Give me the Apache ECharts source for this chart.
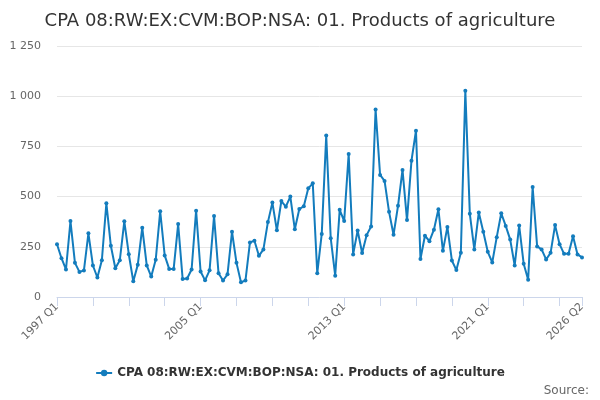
<!DOCTYPE html>
<html>
<head>
<meta charset="utf-8">
<script src="https://cdn.jsdelivr.net/npm/echarts@6/dist/echarts.min.js"></script>
<style>html,body{margin:0;padding:0;background:#fff}#c{width:600px;height:400px}</style>
</head>
<body>
<div id="c"></div>
<script>
const seriesName = "CPA 08:RW:EX:CVM:BOP:NSA: 01. Products of agriculture";
const startYear = 1997;
const endYear = 2026;
const endQuarter = 2;
const values = [
  263,193,137,378,170,125,132,317,157,97,183,467,255,143,183,377,
  213,78,160,345,157,102,185,427,207,140,140,363,90,92,137,430,
  127,83,133,403,118,82,113,325,170,73,82,272,280,205,237,373,
  470,332,478,450,500,337,438,452,541,566,118,314,804,293,106,434,
  378,712,212,331,219,308,351,934,608,578,424,310,454,633,383,679,
  828,189,305,278,335,437,230,349,182,134,220,1027,414,237,421,325,
  225,172,298,417,354,286,157,356,166,86,548,252,237,187,220,358,
  263,215,215,303,212,197
];
const categories = [];
for (let y = startYear; y <= endYear; y++) {
  for (let q = 1; q <= 4; q++) {
    if (y === endYear && q > endQuarter) break;
    categories.push(y + " Q" + q);
  }
}
const lastIdx = categories.length - 1;
const chart = echarts.init(document.getElementById('c'), null, {renderer: 'canvas'});
chart.setOption({
  animation: false,
  textStyle: {fontFamily: 'DejaVu Sans'},
  title: {
    text: seriesName,
    left: 'center', top: 7,
    textStyle: {fontFamily: 'DejaVu Sans', fontSize: 18, fontWeight: 'normal', color: '#333'}
  },
  legend: {
    data: [seriesName],
    bottom: 16, left: 'center',
    itemWidth: 16, itemHeight: 8,
    textStyle: {fontFamily: 'DejaVu Sans', fontSize: 12, fontWeight: 'bold', color: '#333'}
  },
  graphic: [{
    type: 'text', right: 11, bottom: 3,
    style: {text: 'Source:', font: '12px DejaVu Sans', fill: '#666'}
  }],
  grid: {left: 57, right: 18, top: 46, bottom: 103, containLabel: false},
  xAxis: {
    type: 'category',
    data: categories,
    boundaryGap: false,
    axisLine: {lineStyle: {color: '#ccd6eb'}},
    axisTick: {
      length: 9,
      lineStyle: {color: '#ccd6eb'},
      interval: function (i) { return i % 8 === 0 || i === lastIdx; }
    },
    axisLabel: {
      rotate: 45,
      fontSize: 11,
      color: '#666',
      margin: 8,
      interval: function (i) { return i % 32 === 0 || i === lastIdx; }
    },
    splitLine: {show: false}
  },
  yAxis: {
    type: 'value',
    min: 0, max: 1250, interval: 250,
    axisLine: {show: false},
    axisTick: {show: false},
    axisLabel: {
      fontSize: 11, color: '#666', margin: 16,
      formatter: function (v) { return String(v).replace(/\B(?=(\d{3})+(?!\d))/g, ' '); }
    },
    splitLine: {lineStyle: {color: '#e6e6e6'}}
  },
  series: [{
    name: seriesName,
    type: 'line',
    data: values,
    symbol: 'circle',
    symbolSize: 4,
    showSymbol: true,
    showAllSymbol: true,
    lineStyle: {width: 2, color: '#137cbd'},
    itemStyle: {color: '#137cbd'}
  }]
});
</script>
</body>
</html>
